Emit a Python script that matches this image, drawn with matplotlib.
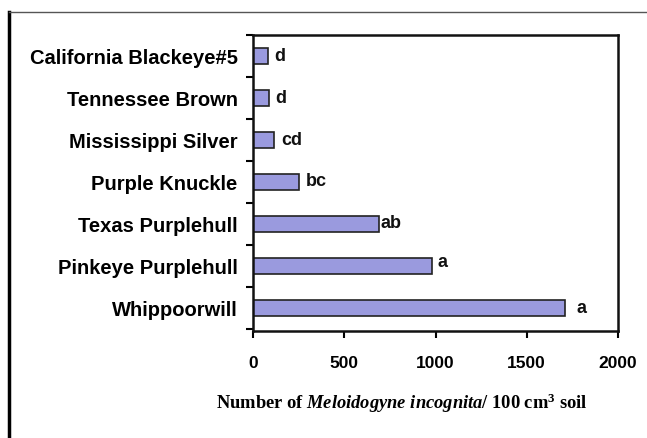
import matplotlib
matplotlib.use("Agg")
import matplotlib.pyplot as plt
from matplotlib.lines import Line2D
import numpy as np

categories = ["Whippoorwill", "Pinkeye Purplehull", "Texas Purplehull", "Purple Knuckle",
              "Mississippi Silver", "Tennessee Brown", "California Blackeye#5"]
values = [1710, 979, 692, 250, 115, 89, 84]
letters = ["a", "a", "ab", "bc", "cd", "d", "d"]
xticks = [0, 500, 1000, 1500, 2000]

plt.rcParams['mathtext.fontset'] = 'custom'
plt.rcParams['mathtext.rm'] = 'Liberation Serif:bold'
plt.rcParams['mathtext.it'] = 'Liberation Serif:italic:bold'
plt.rcParams['mathtext.bf'] = 'Liberation Serif:bold'

fig = plt.figure(figsize=(6.47, 4.39), dpi=100)
W, H = 647, 439
ax = fig.add_axes([253/W, 1-332/H, (618-253)/W, (332-36)/H])

y = np.arange(len(categories))
ax.barh(y, values, height=0.4, color="#9a9ade", edgecolor="#222222", linewidth=1.2)

offsets = [8, 4, 1, 5, 5, 4, 4]
dys = [0, 3, 1, 1, 0, 0, 0]
for yi, v, lab, off, dy in zip(y, values, letters, offsets, dys):
    ax.annotate(lab, (v, yi), xytext=(off, dy), textcoords="offset points",
                ha="left", va="center", fontsize=13, fontweight="bold",
                family="Liberation Sans", color="#111111")

ax.set_xlim(0, 2000)
ax.set_ylim(-0.55, 6.5)
ax.set_xticks(xticks)
ax.set_xticklabels([str(t) for t in xticks], fontsize=12.5, fontweight="bold", family="Liberation Sans")
ax.set_yticks(y)
ax.set_yticklabels(categories, fontsize=14.5, fontweight="bold", family="Liberation Sans")
ax.tick_params(axis="y", which="major", length=0, pad=11)
ax.set_yticks(np.arange(-0.5, 7.0, 1.0), minor=True)
ax.tick_params(axis="y", which="minor", length=5, width=1.5, direction="out")
ax.tick_params(axis="x", length=5, width=1.5, direction="out", pad=12)
for s in ax.spines.values():
    s.set_linewidth(1.8)
    s.set_color("#111111")

fig.text(402/W, 1-409/H, r"Number of $\mathit{Meloidogyne\ incognita}$/ 100 cm$^3$ soil",
         fontsize=13.3, fontweight="bold", family="Liberation Serif", ha="center", va="baseline")

# outer frame lines
fig.add_artist(Line2D([9/W, 9/W], [0, 1-13/H], color="black", linewidth=2.5, transform=fig.transFigure))
fig.add_artist(Line2D([9/W, 1], [1-13/H, 1-13/H], color="#555555", linewidth=1.0, transform=fig.transFigure))

fig.savefig("out.png", dpi=100)
